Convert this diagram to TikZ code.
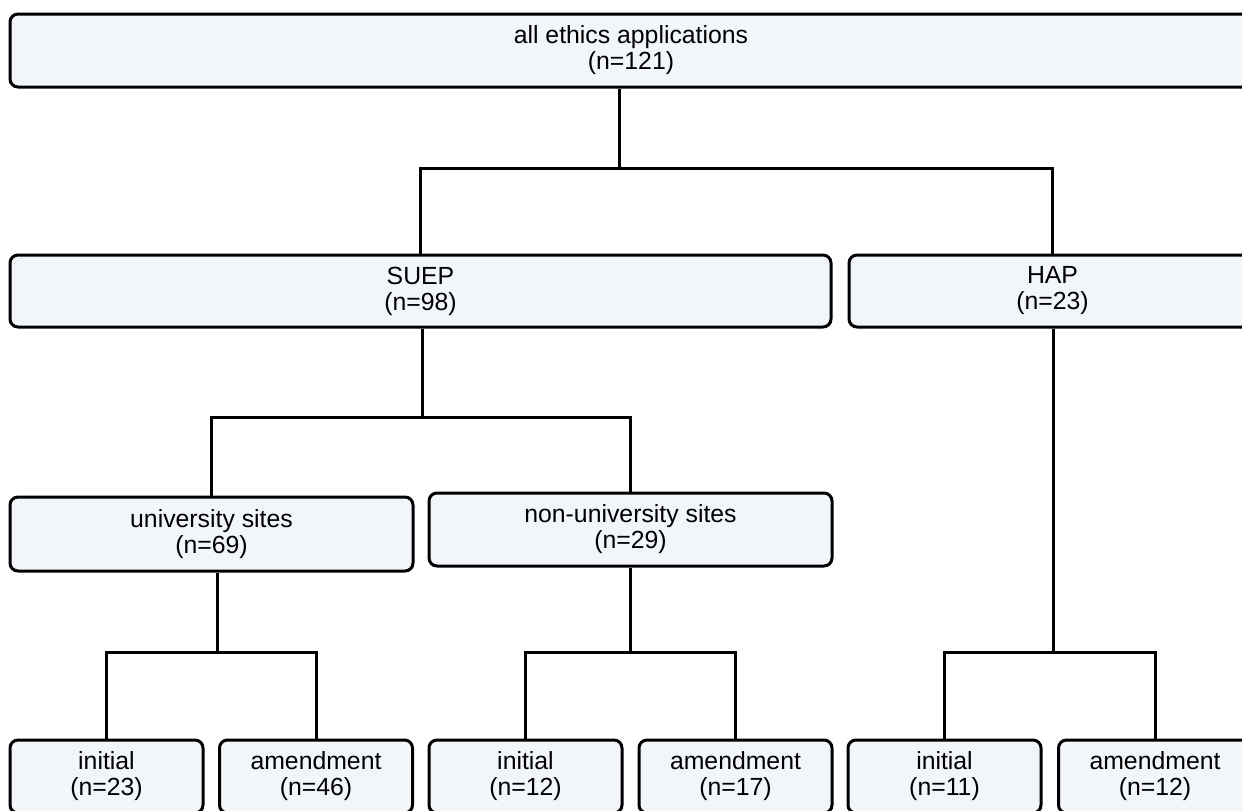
\documentclass[tikz,border=0pt]{standalone}
\usepackage{fontspec}
\setmainfont{Liberation Sans}
\definecolor{boxfill}{HTML}{F2F5FA}
\tikzset{
	box/.style={draw=black, fill=boxfill, line width=1.5pt, rounded corners=4pt, align=center, inner sep=0pt, minimum height=36.5pt, font=\fontsize{12.4}{13}\selectfont},
	link/.style={draw=black, line width=1.5pt}
}
\begin{document}
\begin{tikzpicture}[x=0.5pt, y=-0.5pt]
	\useasboundingbox (0,0) rectangle (1242,810);
	\clip (0,0) rectangle (1242,810);
	% boxes
	\node [box, minimum width=621pt] (all) at (631,50.5) {all ethics applications\\(n=121)};
	\node [box, minimum width=410.5pt, minimum height=36pt] (suep) at (420.5,291) {SUEP\\(n=98)};
	\node [box, minimum width=203.5pt, minimum height=36pt] (hap) at (1052.5,291) {HAP\\(n=23)};
	\node [box, minimum width=201.5pt, minimum height=37pt] (univ) at (211.5,534) {university sites\\(n=69)};
	\node [box, minimum width=201.5pt] (nonuniv) at (630.5,529.5) {non-university sites\\(n=29)};
	\foreach \x/\nm/\txt/\n in {106.5/ui/initial/23, 316/ua/amendment/46, 525.5/ni/initial/12, 735.5/na/amendment/17, 944.5/hi/initial/11, 1155/ha/amendment/12} {
		\node [box, minimum width=96.5pt] (\nm) at (\x,776.5) {\txt\\(n=\n)};
	}
	% joints
	\coordinate (j0) at (619,168);
	\coordinate (j1) at (422,417);
	\coordinate (j2) at (217,652);
	\coordinate (j3) at (630,652);
	\coordinate (j4) at (1053,652);
	% connectors
	\draw [link] (all.south -| j0) -- (j0);
	\draw [link] (suep.north) |- (j0) -| (hap.north);
	\draw [link] (suep.south -| j1) -- (j1);
	\draw [link] (univ.north) |- (j1) -| (nonuniv.north);
	\draw [link] (univ.south -| j2) -- (j2);
	\draw [link] (ui.north) |- (j2) -| (ua.north);
	\draw [link] (nonuniv.south -| j3) -- (j3);
	\draw [link] (ni.north) |- (j3) -| (na.north);
	\draw [link] (hap.south -| j4) -- (j4);
	\draw [link] (hi.north) |- (j4) -| (ha.north);
\end{tikzpicture}
\end{document}
